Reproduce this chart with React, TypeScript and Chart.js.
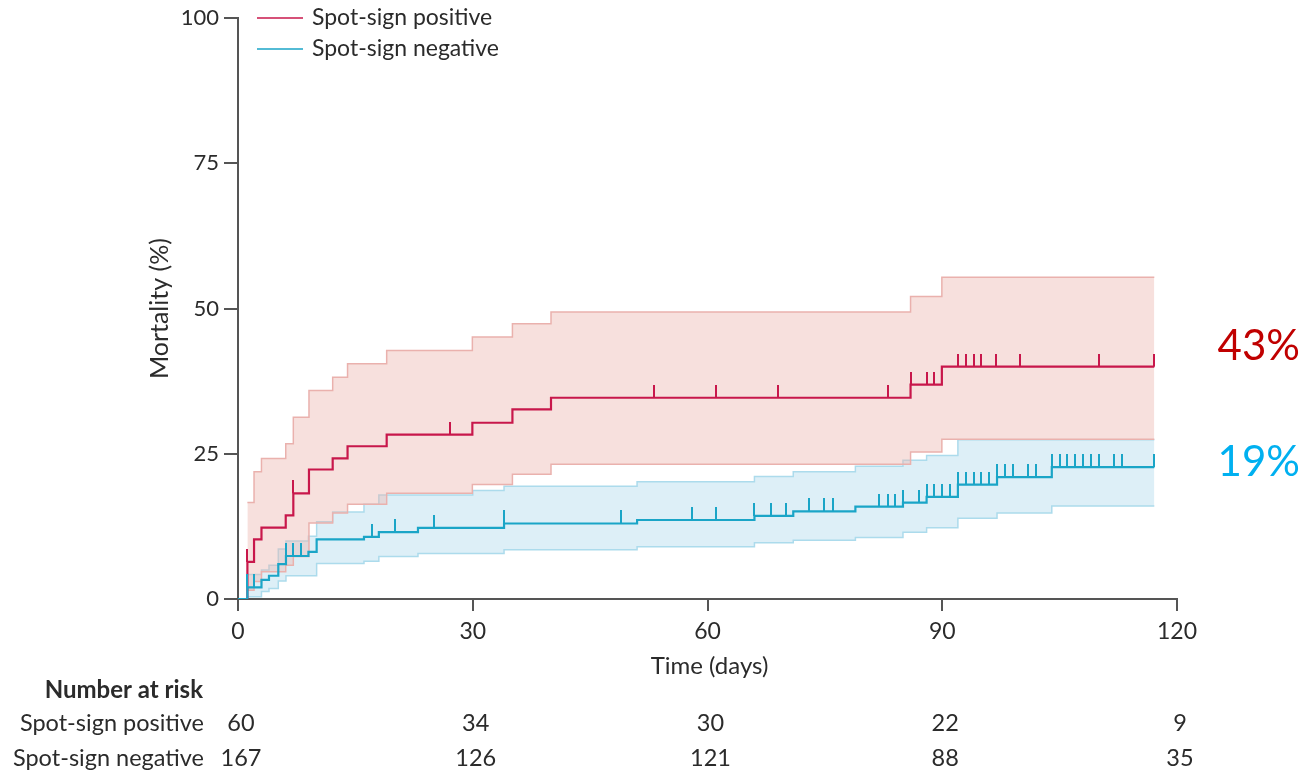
import React, { useEffect, useRef } from "react";
import { Chart, registerables } from "chart.js";

Chart.register(...registerables);

// ---------- data ----------
const seriesNames = ["Spot-sign positive", "Spot-sign negative"];

// Kaplan-Meier mortality (%) – spot-sign positive
const posTimes = [0, 1.2, 2.05, 3.0, 6.1, 7.07, 9.07, 12.1, 14.0, 19.0, 29.95, 35.07, 40.0, 85.95, 89.95, 117.1];
const posMortality = [0, 6.4, 10.25, 12.3, 14.4, 18.2, 22.3, 24.2, 26.3, 28.3, 30.35, 32.65, 34.65, 36.9, 40.0, 40.0];
const posCiTimes = [1.2, 2.05, 3.0, 6.1, 7.07, 9.07, 12.1, 14.0, 19.0, 29.95, 35.07, 40.0, 85.95, 89.95, 117.1];
const posCiUpper = [16.6, 21.9, 24.2, 26.75, 31.3, 35.9, 38.2, 40.5, 42.8, 45.1, 47.4, 49.4, 52.1, 55.4, 55.4];
const posCiLower = [1.5, 3.0, 4.7, 5.8, 7.3, 13.1, 14.8, 16.3, 18.2, 19.7, 21.5, 23.2, 25.3, 27.5, 27.5];
const posCensorTimes = [1.2, 7.07, 27.1, 53.1, 61.1, 69.07, 83.1, 85.95, 88.0, 89.0, 92.0, 93.0, 94.1, 95.0, 96.9, 99.9, 110.0, 117.1];

// Kaplan-Meier mortality (%) – spot-sign negative
const negTimes = [0, 1.2, 3.0, 3.96, 5.15, 6.13, 9.0, 10.05, 16.1, 18.0, 23.0, 34.0, 51.0, 66.0, 70.96, 78.9, 84.98, 88.0, 92.0, 97.0, 104.0, 117.1];
const negMortality = [0, 2.0, 3.3, 4.0, 6.0, 7.4, 8.1, 10.25, 10.7, 11.5, 12.25, 13.0, 13.6, 14.3, 15.1, 15.9, 16.6, 17.6, 19.7, 21.0, 22.7, 22.7];
const negCiTimes = [1.2, 3.0, 3.96, 5.15, 6.13, 9.0, 10.05, 12.1, 16.1, 18.0, 23.0, 30.0, 34.0, 51.0, 66.0, 70.96, 78.9, 84.98, 88.0, 92.0, 97.0, 104.0, 117.1];
const negCiUpper = [4.2, 5.0, 5.8, 8.6, 10.0, 10.8, 13.3, 15.0, 16.3, 17.9, 17.9, 18.7, 19.4, 20.2, 21.1, 21.9, 22.85, 23.9, 24.7, 27.4, 27.4, 27.4, 27.4];
const negCiLower = [0.4, 1.3, 1.8, 3.1, 4.0, 4.0, 6.1, 6.1, 6.5, 7.3, 7.85, 7.85, 8.5, 9.0, 9.7, 10.1, 10.6, 11.5, 12.25, 13.9, 14.8, 16.0, 16.0];
const negCensorTimes = [1.2, 2.1, 6.13, 7.07, 8.0, 17.1, 20.1, 25.05, 34.0, 48.9, 58.0, 61.1, 66.0, 68.1, 70.0, 73.0, 74.9, 76.1, 81.9, 83.1, 84.0, 84.98, 87.0, 88.0, 89.0, 90.0, 91.0, 92.0, 93.0, 94.0, 95.0, 96.0, 97.0, 98.0, 99.0, 101.0, 102.0, 104.0, 105.0, 106.0, 107.0, 108.0, 109.0, 110.0, 111.9, 113.0, 117.1];

const xTicks = [0, 30, 60, 90, 120];
const yTicks = [0, 25, 50, 75, 100];
const riskTimes = [0, 30, 60, 90, 120];
const riskPositive = [60, 34, 30, 22, 9];
const riskNegative = [167, 126, 121, 88, 35];
const endLabels = ["43%", "19%"];
const xTitle = "Time (days)";
const yTitle = "Mortality (%)";
const riskTitle = "Number at risk";

// ---------- style ----------
const FONT = "Lato, 'Open Sans', sans-serif";
const TEXT = "#2b2b2b";
const AXIS = "#555555";
const RED = "#c8174b";
const BLUE = "#1aa5c7";
const RED_BAND = "rgba(236,180,175,0.42)";
const RED_BAND_BORDER = "#eab1ad";
const BLUE_BAND = "rgba(150,205,230,0.32)";
const BLUE_BAND_BORDER = "#acdbec";
const END_RED = "#c00000";
const END_BLUE = "#00b0f0";

function pts(ts: number[], vs: number[]) {
  return ts.map((t, i) => ({ x: t, y: vs[i] }));
}
function stepValue(ts: number[], vs: number[], t: number) {
  let v = vs[0];
  for (let i = 0; i < ts.length; i++) if (ts[i] <= t + 1e-9) v = vs[i];
  return v;
}
function tickMark(color: string, len: number) {
  const c = document.createElement("canvas");
  c.width = 2;
  c.height = len * 2;
  const g = c.getContext("2d")!;
  g.fillStyle = color;
  g.fillRect(0, 0, 2, len);
  return c;
}

const textPlugin = {
  id: "kmText",
  afterDraw(chart: any) {
    const { ctx, chartArea, scales } = chart;
    const xs = scales.x;
    ctx.save();
    ctx.fillStyle = TEXT;
    ctx.textBaseline = "middle";

    // y title
    ctx.save();
    ctx.translate(160, (chartArea.top + chartArea.bottom) / 2);
    ctx.rotate(-Math.PI / 2);
    ctx.textAlign = "center";
    ctx.font = `25px ${FONT}`;
    ctx.fillText(yTitle, 0, 0);
    ctx.restore();

    // x title
    ctx.textAlign = "center";
    ctx.font = `24px ${FONT}`;
    ctx.fillText(xTitle, (chartArea.left + chartArea.right) / 2 + 2, 666);

    // legend
    const legendColors = [RED, BLUE];
    const legendY = [18, 49];
    seriesNames.forEach((name, i) => {
      ctx.strokeStyle = legendColors[i];
      ctx.lineWidth = 1.5;
      ctx.beginPath();
      ctx.moveTo(257, legendY[i]);
      ctx.lineTo(303, legendY[i]);
      ctx.stroke();
      ctx.fillStyle = TEXT;
      ctx.textAlign = "left";
      ctx.font = `23px ${FONT}`;
      ctx.fillText(name, 312, legendY[i]);
    });

    // end labels
    ctx.textAlign = "right";
    ctx.font = `42px ${FONT}`;
    ctx.fillStyle = END_RED;
    ctx.fillText(endLabels[0], 1300, 346);
    ctx.fillStyle = END_BLUE;
    ctx.fillText(endLabels[1], 1300, 462);

    // risk table
    ctx.fillStyle = TEXT;
    ctx.textAlign = "right";
    ctx.font = `bold 24px ${FONT}`;
    ctx.fillText(riskTitle, 203, 690);
    ctx.font = `23.5px ${FONT}`;
    ctx.fillText(seriesNames[0], 204, 723);
    ctx.fillText(seriesNames[1], 204, 758);
    ctx.textAlign = "center";
    ctx.font = `23.5px ${FONT}`;
    riskTimes.forEach((t, i) => {
      const px = xs.getPixelForValue(t) + 3;
      ctx.fillText(String(riskPositive[i]), px, 723);
      ctx.fillText(String(riskNegative[i]), px, 758);
    });
    ctx.restore();
  },
};

export default function App() {
  const ref = useRef<HTMLCanvasElement | null>(null);
  useEffect(() => {
    document.body.style.margin = "0";
    let chart: Chart | null = null;
    let dead = false;
    const make = () => {
      if (dead || !ref.current) return;
      const lineBase = { stepped: "before" as const, pointRadius: 0, fill: false };
      chart = new Chart(ref.current, {
        type: "line",
        data: {
          datasets: [
            { ...lineBase, label: "neg lower", data: pts(negCiTimes, negCiLower), borderColor: BLUE_BAND_BORDER, borderWidth: 1.5, order: 3 },
            { ...lineBase, label: "neg upper", data: pts(negCiTimes, negCiUpper), borderColor: BLUE_BAND_BORDER, borderWidth: 1.5, fill: "-1", backgroundColor: BLUE_BAND, order: 3 },
            { ...lineBase, label: "pos lower", data: pts(posCiTimes, posCiLower), borderColor: RED_BAND_BORDER, borderWidth: 1.5, order: 2 },
            { ...lineBase, label: "pos upper", data: pts(posCiTimes, posCiUpper), borderColor: RED_BAND_BORDER, borderWidth: 1.5, fill: "-1", backgroundColor: RED_BAND, order: 2 },
            { ...lineBase, label: seriesNames[1], data: pts(negTimes, negMortality), borderColor: BLUE, borderWidth: 2.2, order: 1 },
            { ...lineBase, label: seriesNames[0], data: pts(posTimes, posMortality), borderColor: RED, borderWidth: 2.2, order: 1 },
            {
              label: "neg censored",
              data: negCensorTimes.map((t) => ({ x: t, y: stepValue(negTimes, negMortality, t) })),
              showLine: false,
              pointStyle: tickMark(BLUE, 13) as any,
              pointRadius: 3,
              order: 0,
            },
            {
              label: "pos censored",
              data: posCensorTimes.map((t) => ({ x: t, y: stepValue(posTimes, posMortality, t) })),
              showLine: false,
              pointStyle: tickMark(RED, 13) as any,
              pointRadius: 3,
              order: 0,
            },
          ] as any,
        },
        options: {
          responsive: false,
          animation: false,
          devicePixelRatio: 1,
          layout: { padding: { top: 17, right: 132, bottom: 100, left: 0 } },
          plugins: { legend: { display: false }, tooltip: { enabled: false } },
          events: [],
          scales: {
            x: {
              type: "linear",
              min: 0,
              max: 120,
              afterBuildTicks: (s: any) => {
                s.ticks = xTicks.map((v) => ({ value: v }));
              },
              afterFit: (s: any) => {
                s.height = 76;
              },
              grid: { display: true, drawOnChartArea: false, drawTicks: true, tickLength: 12, color: AXIS, lineWidth: 2 },
              border: { display: true, color: AXIS, width: 2 },
              ticks: { font: { family: FONT, size: 23 }, color: TEXT, padding: 7, maxRotation: 0 },
            },
            y: {
              type: "linear",
              min: 0,
              max: 100,
              afterBuildTicks: (s: any) => {
                s.ticks = yTicks.map((v) => ({ value: v }));
              },
              afterFit: (s: any) => {
                s.width = 238;
              },
              grid: { display: true, drawOnChartArea: false, drawTicks: true, tickLength: 14, color: AXIS, lineWidth: 2 },
              border: { display: true, color: AXIS, width: 2 },
              ticks: { font: { family: FONT, size: 22 }, color: TEXT, padding: 5 },
            },
          },
        } as any,
        plugins: [textPlugin],
      });
    };
    const fonts = (document as any).fonts;
    if (fonts && fonts.load) {
      Promise.all([fonts.load(`20px Lato`), fonts.load(`bold 20px Lato`)]).then(make, make);
    } else make();
    return () => {
      dead = true;
      if (chart) chart.destroy();
    };
  }, []);
  return (
    <div style={{ width: 1309, height: 775, background: "#fff" }}>
      <canvas ref={ref} width={1309} height={775} style={{ display: "block", width: 1309, height: 775 }} />
    </div>
  );
}
